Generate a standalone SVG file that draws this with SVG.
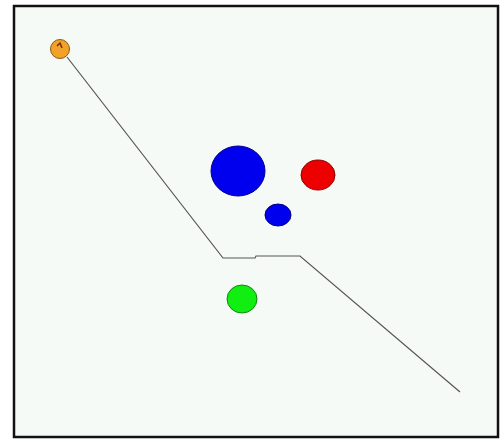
<svg xmlns="http://www.w3.org/2000/svg" width="503" height="441" viewBox="0 0 503 441">
<style>
.n{stroke-width:1}
.c{fill:none;stroke:#555;stroke-width:1.2}
</style>
<rect x="0" y="0" width="503" height="441" fill="#ffffff"/>
<rect x="14" y="6" width="484" height="431" fill="#f6faf6" stroke="#111" stroke-width="2.5"/>
<g id="connectors">
<polyline class="c" points="67,57 223,258 255,258 256,256 300,256 460,392"/>
</g>
<g id="orange"><circle class="n" cx="60" cy="49" r="9.5" fill="#f2a22a" stroke="#8a5a10"/><path d="M57,46 L60,43 L62,48" fill="none" stroke="#7a2a10" stroke-width="1.5"/></g>
<g id="bigblue"><ellipse class="n" cx="238" cy="171" rx="27" ry="25" fill="#0000ee" stroke="#000088"/></g>
<g id="red"><ellipse class="n" cx="318" cy="175" rx="17" ry="15" fill="#ee0000" stroke="#880000"/></g>
<g id="smallblue"><ellipse class="n" cx="278" cy="215" rx="13" ry="11" fill="#0000ee" stroke="#000088"/></g>
<g id="green"><ellipse class="n" cx="242" cy="299" rx="15" ry="14" fill="#11ee11" stroke="#118811"/></g>
</svg>
